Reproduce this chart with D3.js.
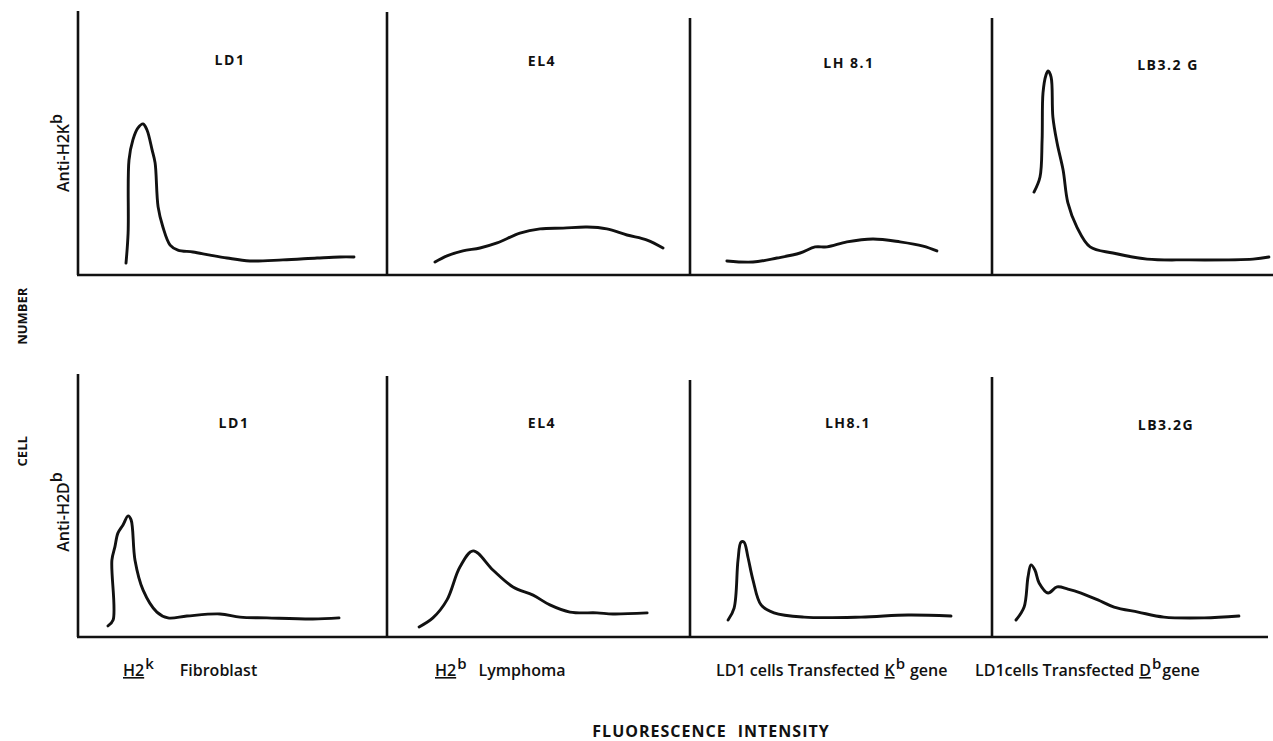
<!DOCTYPE html>
<html>
<head>
<meta charset="utf-8">
<script src="https://cdn.jsdelivr.net/npm/d3@7"></script>
<style>
  body { margin: 0; background: #fff; }
  text { font-family: "Open Sans", sans-serif; fill: #111; }
</style>
</head>
<body>
<svg width="1273" height="741"></svg>
<script>
// cell lines (panel titles)
const cellLines = ["LD1", "EL4", "LH 8.1", "LB3.2 G"];
const cellLinesBottom = ["LD1", "EL4", "LH8.1", "LB3.2G"];

// histogram traces, [fluorescence, cell number] in 0-100 units
// row 1 : Anti-H2Kb
const kLD1 = [[16,4.5],[16.7,15.8],[17,43.4],[18.3,51],[20,55.5],[21.7,57],[23,54.7],[24.7,47.2],[25.7,42.3],[26.7,25.7],[28.3,18.1],[30.7,11.3],[33.3,9.4],[38.3,8.7],[44,7.5],[49.7,6.4],[57.3,5.3],[68.3,5.7],[79.7,6.4],[87.3,6.8],[92,6.8]];
const kEL4 = [[16,4.9],[20,7.2],[25.3,9.1],[31,10.2],[36.7,12.1],[44.3,15.8],[51,17.4],[58.7,17.7],[66.7,18.1],[73.3,17.4],[80,15.1],[86.7,13.2],[92,10.2]];
const kLH81 = [[12.3,5.3],[21,4.9],[29,6.4],[36.7,8.3],[41.7,10.6],[45.7,10.6],[52.3,12.5],[61,13.6],[70,12.5],[77.7,10.9],[82.3,9.1]];
const kLB32G = [[14,31.3],[16,37],[16.7,50.9],[17,68.7],[18,75.5],[18.7,77],[19.7,74.7],[20.3,59.6],[21.7,49.8],[23.7,39.6],[25.3,27.2],[28.3,18.1],[32.7,10.6],[40.3,8.3],[51.7,6],[65,5.7],[87,6],[92.3,6.8]];
// row 2 : Anti-H2Db
const dLD1 = [[10,4.2],[11.7,6.4],[11.3,29],[12.3,34],[13.3,39.2],[15,42.3],[16.7,45.7],[17.7,44.2],[19,29],[21.7,17.7],[26.3,9.4],[30,7.2],[36.3,7.9],[47.3,8.7],[54,7.5],[63,7.2],[78.3,6.8],[87,7.2]];
const dEL4 = [[10.7,3.8],[15.3,7.2],[20,14],[24.3,26.4],[28.7,32.5],[35.3,25.3],[42,18.9],[48.7,15.8],[54.3,12.1],[61,9.4],[70,9.1],[75.3,8.7],[86.7,9.1]];
const dLH81 = [[12.7,6.4],[14.7,10.9],[16,29],[17,35.8],[18,35.8],[19.3,30.2],[21,21.5],[23.7,12.1],[28,9.1],[38,7.5],[57,7.5],[72.7,8.3],[87,7.9]];
const dLB32G = [[8,6.4],[10.7,11.3],[12,22.6],[13,27.2],[14.3,25.3],[15.7,20.4],[18.7,16.6],[21.7,18.9],[25.3,18.1],[29.7,16.6],[35.3,14],[40.7,11.3],[48.7,9.4],[57.3,7.5],[70.7,7.2],[82.3,7.9]];

const svg = d3.select("svg");

// layout
const panelLeft = [78, 387, 690, 992];
const panelW = 300;
const panelH = 265;
const rows = [
  { base: 275, label: "Anti-H2K", sup: "b", titles: cellLines, traces: [kLD1, kEL4, kLH81, kLB32G],
    titleX: [230, 542, 849, 1168], titleY: [65, 66, 68, 70], labelY: 153, end: 1273, tops: [11, 12, 18, 18] },
  { base: 637, label: "Anti-H2D", sup: "b", titles: cellLinesBottom, traces: [dLD1, dEL4, dLH81, dLB32G],
    titleX: [234, 542, 848, 1166], titleY: [428, 428, 428, 430], labelY: 512, end: 1268, tops: [374, 376, 380, 377] }
];

rows.forEach((row) => {
  const g = svg.append("g");

  // baseline across all panels
  g.append("line")
    .attr("x1", panelLeft[0] - 1).attr("x2", row.end)
    .attr("y1", row.base).attr("y2", row.base)
    .attr("stroke", "#111").attr("stroke-width", 2.6);

  const y = d3.scaleLinear().domain([0, 100]).range([row.base, row.base - panelH]);

  panelLeft.forEach((left, i) => {
    const x = d3.scaleLinear().domain([0, 100]).range([left, left + panelW]);

    // vertical axis
    g.append("line")
      .attr("x1", left).attr("x2", left)
      .attr("y1", row.tops[i]).attr("y2", row.base)
      .attr("stroke", "#111").attr("stroke-width", 2.6);

    // trace
    const line = d3.line()
      .x((d) => x(d[0]))
      .y((d) => y(d[1]))
      .curve(d3.curveCatmullRom.alpha(0.5));
    g.append("path")
      .datum(row.traces[i])
      .attr("d", line)
      .attr("fill", "none")
      .attr("stroke", "#111")
      .attr("stroke-width", 2.9)
      .attr("stroke-linejoin", "round")
      .attr("stroke-linecap", "round");

    // panel title
    g.append("text")
      .attr("x", row.titleX[i])
      .attr("y", row.titleY[i])
      .attr("text-anchor", "middle")
      .attr("font-size", 14)
      .attr("font-weight", 700)
      .style("letter-spacing", "1.5px")
      .text(row.titles[i]);
  });

  // antibody label (rotated)
  const lab = g.append("text")
    .attr("transform", `translate(69,${row.labelY}) rotate(-90)`)
    .attr("text-anchor", "middle")
    .attr("font-size", 16)
    .attr("font-weight", 600);
  lab.append("tspan").text(row.label);
  lab.append("tspan").attr("dy", -7).text(row.sup);
});

// y title
svg.append("text")
  .attr("transform", "translate(27,377) rotate(-90)")
  .attr("text-anchor", "middle")
  .attr("font-size", 13)
  .attr("font-weight", 700)
  .style("word-spacing", "88px")
  .text("CELL NUMBER");

// x title
svg.append("text")
  .attr("x", 711)
  .attr("y", 737)
  .attr("text-anchor", "middle")
  .attr("font-size", 16)
  .attr("font-weight", 700)
  .style("letter-spacing", "1px")
  .style("word-spacing", "6px")
  .text("FLUORESCENCE INTENSITY");

// bottom captions: [text, style, dx]
const captions = [
  { x: 123, parts: [["H2", "u", 0], ["k", "sup", 1], ["Fibroblast", "", 26]] },
  { x: 435, parts: [["H2", "u", 0], ["b", "sup", 1], ["Lymphoma", "", 12]] },
  { x: 716, parts: [["LD1 cells Transfected", "", 0], ["K", "u", 5], ["b", "sup", 1], ["gene", "", 5]] },
  { x: 975, parts: [["LD1cells Transfected", "", 0], ["D", "u", 5], ["b", "sup", 1], ["gene", "", 1]] }
];
captions.forEach((c) => {
  const t = svg.append("text")
    .attr("x", c.x)
    .attr("y", 676)
    .attr("font-size", 16)
    .attr("font-weight", 600);
  let raised = false;
  c.parts.forEach((p) => {
    const s = t.append("tspan").attr("dx", p[2]).text(p[0]);
    if (p[1] === "u") s.style("text-decoration", "underline");
    if (p[1] === "sup") {
      s.attr("dy", -7).attr("font-size", 15);
      raised = true;
    } else if (raised) {
      s.attr("dy", 7);
      raised = false;
    }
  });
});
</script>
</body>
</html>
